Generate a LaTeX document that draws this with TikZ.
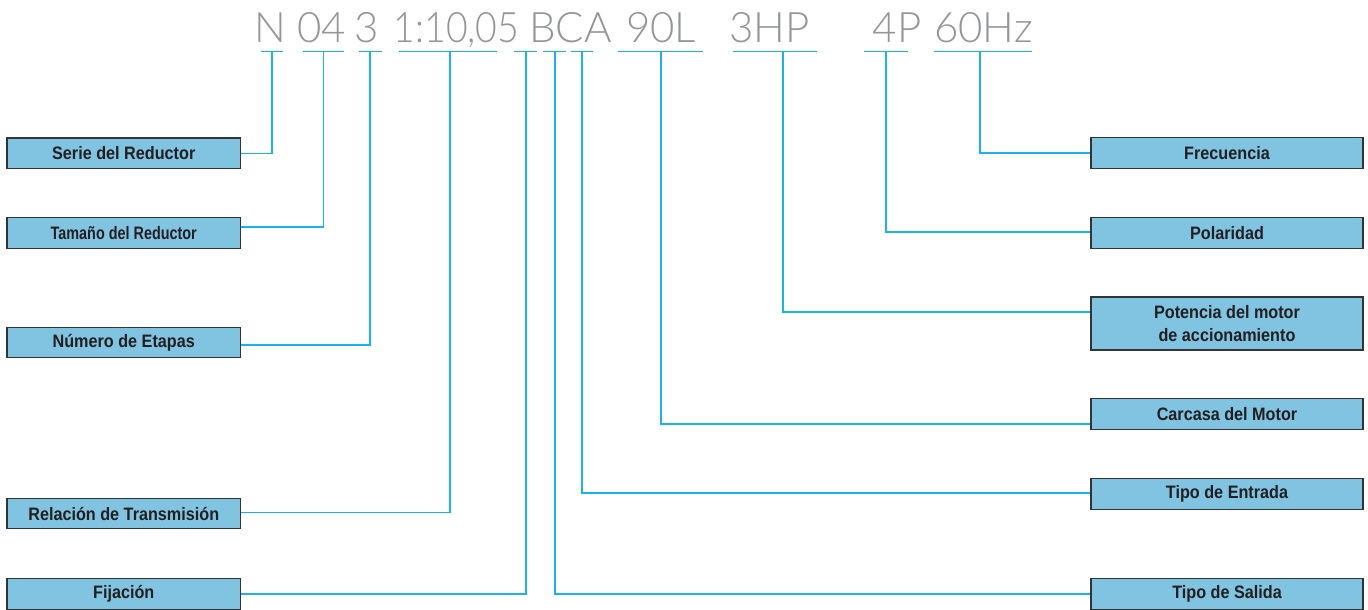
\documentclass[tikz,border=0pt]{standalone}
\usepackage{fontspec}
\setmainfont{Liberation Sans}
\newfontfamily\boxfont[FakeStretch=0.9]{Liberation Sans}
\newfontfamily\boxfontnarrow[FakeStretch=0.8]{Liberation Sans}
\IfFontExistsTF{Lato Light}{\newfontfamily\codefont{Lato Light}}{\newfontfamily\codefont{Liberation Sans}}
\definecolor{linkcol}{HTML}{1AB2EA}
\definecolor{boxfill}{HTML}{80C4E2}
\definecolor{boxdraw}{HTML}{333333}
\definecolor{codecol}{HTML}{939598}
\definecolor{txtcol}{HTML}{231F20}
\tikzset{
  x=1pt, y=-1pt,
  lbox/.style={draw=boxdraw, line width=1.2pt, fill=boxfill, minimum width=233.5pt,
    minimum height=30.5pt, inner sep=0pt, text=txtcol,
    font=\boxfont\bfseries\fontsize{18}{23}\selectfont, align=center},
  rbox/.style={lbox, minimum width=272pt},
  link/.style={draw=linkcol, line width=1.3pt},
  uline/.style={draw=linkcol, line width=1.3pt},
  code/.style={anchor=base, inner sep=0pt, text=codecol, font=\codefont\fontsize{42}{42}\selectfont}
}
\begin{document}
\begin{tikzpicture}
\useasboundingbox (0,0) rectangle (1368,610);
% code text
\node[code] (cN) at (270,42.5) {N};
\node[code] (c04) at (321.5,42.5) {04};
\node[code] (c3) at (366.5,42.5) {3};
\node[code] (cR) at (456.5,42.5) {\scalebox{0.89}[1]{1:10,05}};
\node[code] (cBCA) at (570.5,42.5) {BCA};
\node[code] (c90L) at (661,42.5) {90L};
\node[code] (c3HP) at (769.5,42.5) {3HP};
\node[code] (c4P) at (897,42.5) {4P};
\node[code] (c60) at (983.5,42.5) {60Hz};
% underlines
\draw[uline] (260.7,51.5) -- (283.3,51.5);
\draw[uline] (303,51.5) -- (344,51.5);
\draw[uline] (359,51.5) -- (382,51.5);
\draw[uline] (399,51.5) -- (497,51.5);
\draw[uline] (514,51.5) -- (537,51.5);
\draw[uline] (543,51.5) -- (566,51.5);
\draw[uline] (571,51.5) -- (593,51.5);
\draw[uline] (618,51.5) -- (703,51.5);
\draw[uline] (733,51.5) -- (817,51.5);
\draw[uline] (864,51.5) -- (908,51.5);
\draw[uline] (934,51.5) -- (1032,51.5);
\coordinate (u1) at (272,51.5);
\coordinate (u2) at (323.5,51.5);
\coordinate (u3) at (370,51.5);
\coordinate (u4) at (450,51.5);
\coordinate (u5) at (526,51.5);
\coordinate (u6) at (555,51.5);
\coordinate (u7) at (582,51.5);
\coordinate (u8) at (661,51.5);
\coordinate (u9) at (783,51.5);
\coordinate (u10) at (886,51.5);
\coordinate (u11) at (980,51.5);
% left boxes
\node[lbox] (s1) at (123.75,153.25) {Serie del Reductor};
\node[lbox, font=\boxfontnarrow\bfseries\fontsize{18}{23}\selectfont] (s2) at (123.75,233) {Tamaño del Reductor};
\node[lbox] (s3) at (123.75,342.5) {Número de Etapas};
\node[lbox] (s4) at (123.75,513.5) {Relación de Transmisión};
\node[lbox] (s5) at (123.75,594) {Fijación};
% right boxes
\node[rbox] (r1) at (1227,153) {Frecuencia};
\node[rbox] (r2) at (1227,233) {Polaridad};
\node[rbox, minimum height=53pt] (r3) at (1227,323.5) {Potencia del motor\\ de accionamiento};
\node[rbox] (r4) at (1227,414) {Carcasa del Motor};
\node[rbox] (r5) at (1227,494) {Tipo de Entrada};
\node[rbox] (r6) at (1227,594) {Tipo de Salida};
% connectors
\draw[link] (s1.east) -| (u1);
\draw[link] ([yshift=6pt]s2.east) -| (u2);
\draw[link] ([yshift=-2.5pt]s3.east) -| (u3);
\draw[link] ([yshift=1pt]s4.east) -| (u4);
\draw[link] (s5.east) -| (u5);
\draw[link] (r6.west) -| (u6);
\draw[link] ([yshift=1pt]r5.west) -| (u7);
\draw[link] ([yshift=-10pt]r4.west) -| (u8);
\draw[link] ([yshift=11.5pt]r3.west) -| (u9);
\draw[link] ([yshift=1pt]r2.west) -| (u10);
\draw[link] (r1.west) -| (u11);
\end{tikzpicture}
\end{document}
